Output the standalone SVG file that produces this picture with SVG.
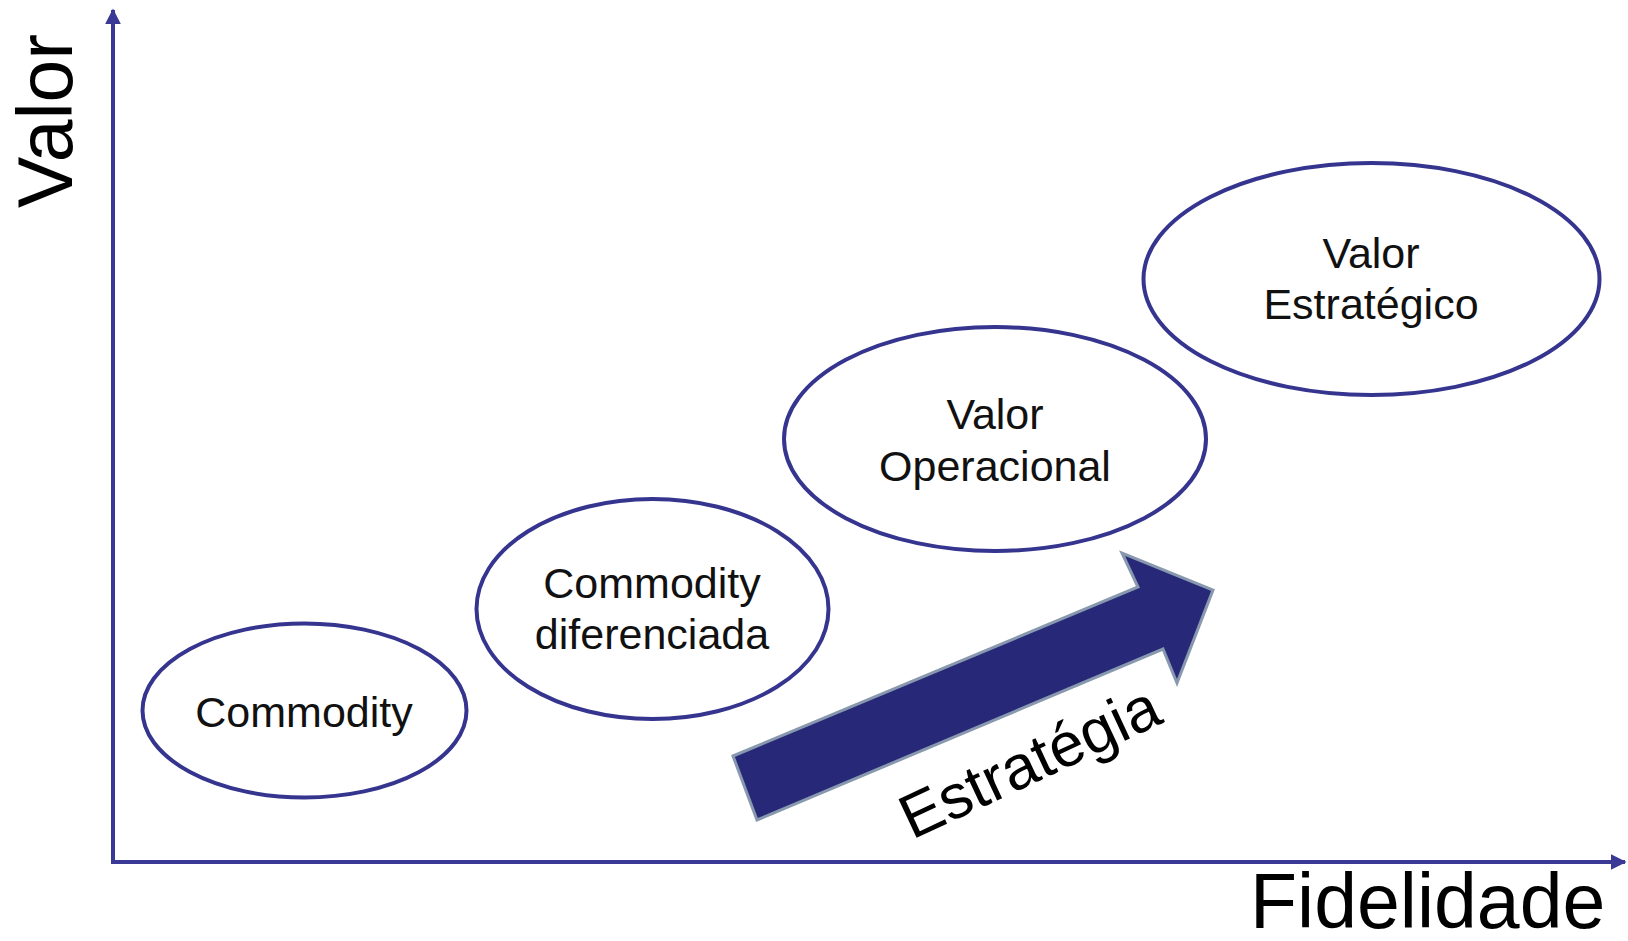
<svg xmlns="http://www.w3.org/2000/svg" width="1628" height="941" viewBox="0 0 1628 941">
<style>
.ell{fill:none;stroke:#35358f;stroke-width:4}
.lbl{font-family:"Liberation Sans",Arial,sans-serif;font-size:43px;fill:#111;text-anchor:middle}
.axl{font-family:"Liberation Sans",Arial,sans-serif;font-size:77px;fill:#000}
.axis{stroke:#3a3a96;stroke-width:4;fill:none}
</style>
<defs>
<marker id="ah" viewBox="0 0 10 10" refX="9" refY="5" markerWidth="4" markerHeight="4" orient="auto" markerUnits="strokeWidth">
<path d="M0,0 L10,5 L0,10 z" fill="#3a3a96"/>
</marker>
</defs>
<rect width="1628" height="941" fill="#fff"/>
<g id="connectors">
<line class="axis" x1="113" y1="862" x2="113" y2="10" marker-end="url(#ah)"/>
<line class="axis" x1="111" y1="862" x2="1625" y2="862" marker-end="url(#ah)"/>
<path id="strategy-arrow" d="M733,756 L1138,587 L1122,553 L1213,590 L1177,683 L1163,649 L757,820 Z" fill="#282878" stroke="#8898ae" stroke-width="3" stroke-linejoin="miter"/>
</g>
<g id="axis-labels">
<text class="axl" transform="translate(72,208) rotate(-90)">Valor</text>
<text class="axl" x="1250" y="928">Fidelidade</text>
<text class="axl" style="font-size:62px" transform="translate(912,840) rotate(-25)">Estratégia</text>
</g>
<g id="commodity">
<ellipse class="ell" cx="304.5" cy="710.5" rx="162" ry="87"/>
<text class="lbl" x="304" y="727">Commodity</text>
</g>
<g id="commodity-diferenciada">
<ellipse class="ell" cx="652.5" cy="609" rx="176" ry="110"/>
<text class="lbl" x="652" y="598">Commodity</text>
<text class="lbl" x="652" y="649">diferenciada</text>
</g>
<g id="valor-operacional">
<ellipse class="ell" cx="995" cy="439" rx="211" ry="112"/>
<text class="lbl" x="995" y="429">Valor</text>
<text class="lbl" x="995" y="481">Operacional</text>
</g>
<g id="valor-estrategico">
<ellipse class="ell" cx="1371.5" cy="279" rx="228" ry="116"/>
<text class="lbl" x="1371" y="268">Valor</text>
<text class="lbl" x="1371" y="319">Estratégico</text>
</g>
</svg>
